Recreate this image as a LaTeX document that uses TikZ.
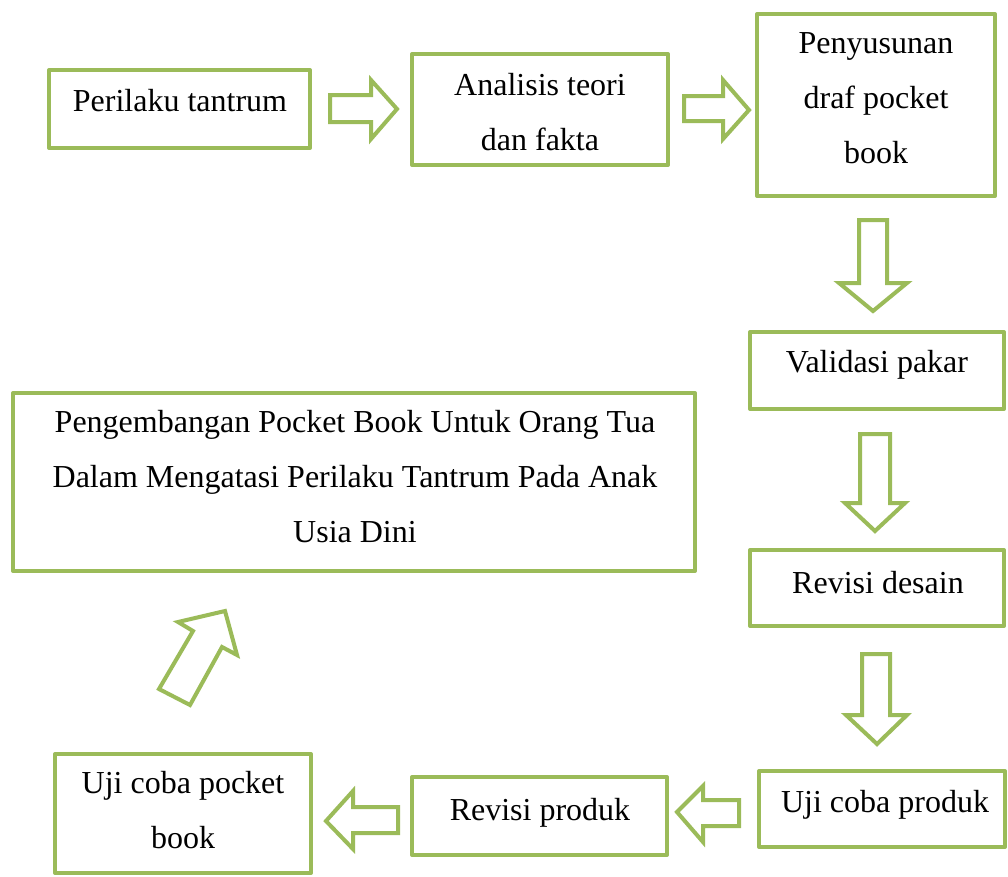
\documentclass[tikz,border=0pt]{standalone}
\usepackage{fontspec}
\setmainfont{Liberation Serif}
\definecolor{og}{HTML}{9BBB59}
\begin{document}
\begin{tikzpicture}[x=1pt,y=-1pt,
  box/.style={draw=og,line width=4pt,line join=round},
  blk/.style={draw=og,line width=4pt,line join=miter,fill=white},
  txt/.style={anchor=base,align=center,inner sep=0pt,font=\fontsize{32}{55}\selectfont}]
\fill[white] (0,0) rectangle (1008,876);
\useasboundingbox (0,0) rectangle (1008,876);
% boxes
\draw[box] (49,70) rectangle (310,148) coordinate (b1);
\draw[box] (412,54) rectangle (668,165) coordinate (b2);
\draw[box] (757,14) rectangle (995,196) coordinate (b3);
\draw[box] (750,332) rectangle (1004,409) coordinate (b4);
\draw[box] (13,393) rectangle (695,571) coordinate (b5);
\draw[box] (750,550) rectangle (1004,626) coordinate (b6);
\draw[box] (759,771) rectangle (1005,847) coordinate (b7);
\draw[box] (412,777) rectangle (667,855) coordinate (b8);
\draw[box] (55,754) rectangle (311,873) coordinate (b9);
% texts (base = baseline of last line)
\node[txt] (t1) at (180,111) {Perilaku tantrum};
\node[txt] (t2) at (540,150) {Analisis teori\\dan fakta};
\node[txt] (t3) at (876,163) {Penyusunan\\draf pocket\\book};
\node[txt] (t4) at (877,372) {Validasi pakar};
\node[txt] (t5) at (355,542) {Pengembangan Pocket Book Untuk Orang Tua\\Dalam Mengatasi Perilaku Tantrum Pada Anak\\Usia Dini};
\node[txt] (t6) at (878,593) {Revisi desain};
\node[txt] (t7) at (885,812) {Uji coba produk};
\node[txt] (t8) at (540,820) {Revisi produk};
\node[txt] (t9) at (183,848) {Uji coba pocket\\book};
% block arrows
\draw[blk] (330,95) -- (371,95) -- (371,80) -- (397,109) -- (371,139) -- (371,122) -- (330,122) -- cycle;
\draw[blk] (684,96) -- (723,96) -- (723,80) -- (749,110) -- (723,139) -- (723,121) -- (684,121) -- cycle;
\draw[blk] (859,220) -- (887,220) -- (887,283) -- (907,283) -- (873,311) -- (839,283) -- (859,283) -- cycle;
\draw[blk] (860,434) -- (890,434) -- (890,503) -- (905,503) -- (875,531) -- (845,503) -- (860,503) -- cycle;
\draw[blk] (862,654) -- (890,654) -- (890,715) -- (907,715) -- (877,744) -- (846,715) -- (862,715) -- cycle;
\draw[blk] (739,800) -- (703,800) -- (703,786) -- (677,812) -- (703,842) -- (703,826) -- (739,826) -- cycle;
\draw[blk] (398,807) -- (353,807) -- (353,791) -- (326,821) -- (353,849) -- (353,833) -- (398,833) -- cycle;
\draw[blk] (159,689) -- (193,631) -- (178,622) -- (225,611) -- (237,655) -- (222,647) -- (190,705) -- cycle;
\end{tikzpicture}
\end{document}
